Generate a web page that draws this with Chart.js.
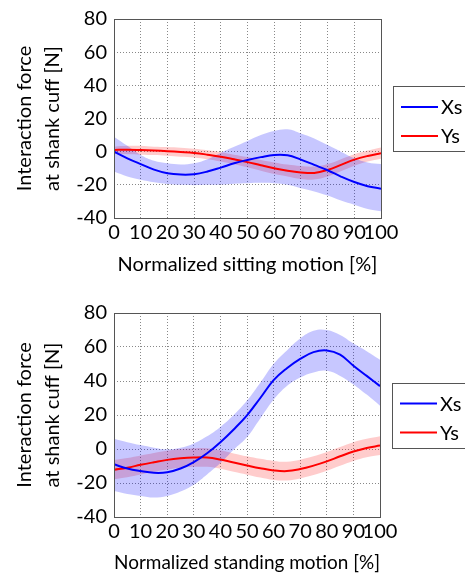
<!DOCTYPE html>
<html>
<head>
<meta charset="utf-8">
<script src="https://cdn.jsdelivr.net/npm/chart.js@4"></script>
<style>
  body { margin: 0; background: #fff; }
  .panel { position: absolute; left: 0; width: 465px; }
  #sitPanel { top: 0; height: 290px; }
  #standPanel { top: 290px; height: 289px; }
</style>
</head>
<body>
<div class="panel" id="sitPanel"><canvas id="sitChart" width="465" height="290"></canvas></div>
<div class="panel" id="standPanel"><canvas id="standChart" width="465" height="289"></canvas></div>
<script>
// motion phase in percent (0..100, step 5)
const phase = [0, 5, 10, 15, 20, 25, 30, 35, 40, 45, 50, 55, 60, 65, 70, 75, 80, 85, 90, 95, 100]

// sitting motion
const sitXs      = [0, -4, -7.5, -10.8, -13, -13.8, -13.6, -12, -9.6, -7, -5, -3.3, -2, -2.2, -4.8, -8, -11.2, -15, -18.3, -20.8, -22.3]
const sitXsUpper = [9, 3.5, -2, -5.5, -7, -7.7, -7, -4.5, -0.6, 3, 6.5, 10, 12.5, 13.5, 11, 8, 4, 0, -4, -6.5, -7.5]
const sitXsLower = [-12, -15, -17, -18.5, -19.5, -20, -20.2, -20, -19.8, -19.3, -19, -18.8, -19, -20, -22, -24, -26.5, -29.5, -32, -34.5, -36]
const sitYs      = [1, 1.2, 1, 0.7, 0.3, -0.2, -0.8, -1.8, -3, -4.6, -6.3, -8.2, -10, -11.5, -12.5, -12.8, -11, -8, -4.8, -2.6, -1]
const sitYsUpper = [3, 3.5, 3.5, 3, 2.8, 2.3, 1.7, 0.8, -0.3, -1.8, -3.2, -5, -6.5, -7.8, -8.7, -9, -7.5, -4.5, -1.5, 0.7, 2.5]
const sitYsLower = [-1.5, -1.5, -1.8, -2, -2.4, -3, -3.5, -4.6, -6, -7.6, -9.4, -11.5, -13.5, -15, -16.5, -16.8, -15, -11.8, -8.5, -6, -4.3]

// standing motion
const standXs      = [-9, -11.5, -13, -14, -13.7, -11.5, -7.7, -2.5, 4, 11.5, 19.8, 30, 40.5, 47.5, 53, 57, 58, 55.5, 49, 43, 37]
const standXsUpper = [6, 4, 2.3, 0.8, -0.2, 0.8, 3.3, 7.5, 13, 20, 28.5, 39, 50, 58, 65, 69.5, 70, 67, 62, 57.5, 52.5]
const standXsLower = [-24.7, -26.5, -27.6, -28.6, -27.6, -25, -21, -15, -8.3, -0.5, 7, 18, 29, 37, 42, 45, 46, 43, 38, 32, 25.5]
const standYs      = [-12.2, -11, -9.3, -7.8, -6.4, -5.5, -5, -5, -6.2, -8, -9.7, -11.3, -12.6, -13, -11.8, -9.8, -7.3, -4.3, -1.5, 0.6, 2]
const standYsUpper = [-6.5, -5.3, -3.8, -2.3, -1, 0, 0.5, 0.5, -0.8, -2.6, -4.3, -5.8, -7, -7.5, -6.3, -4.3, -1.8, 1.2, 4, 6, 7.5]
const standYsLower = [-17.8, -16.6, -15, -13.4, -12, -11, -10.5, -10.5, -11.6, -13.4, -15.1, -16.8, -18.2, -18.5, -17.3, -15.3, -12.8, -9.8, -7, -4.8, -3.5]

const seriesNames = ["Xs", "Ys"]
const yTitle = ["Interaction force", "at shank cuff [N]"]

const FONT = "Lato, 'Open Sans', sans-serif"
const TEXT = "#000"
const BLUE = "#0000ff"
const RED = "#ff0000"
const BLUE_BAND = "rgba(0, 0, 255, 0.22)"
const RED_BAND = "rgba(255, 0, 0, 0.2)"

function toPoints(values) {
  return values.map((v, i) => ({ x: phase[i], y: v }))
}

// solid frame around the plot area
const framePlugin = {
  id: "frame",
  afterDraw(chart) {
    const { ctx, chartArea: a } = chart
    ctx.save()
    ctx.strokeStyle = "#555"
    ctx.lineWidth = 1
    ctx.strokeRect(Math.round(a.left) + 0.5, Math.round(a.top) + 0.5,
      Math.round(a.right - a.left), Math.round(a.bottom - a.top))
    ctx.restore()
  }
}

// boxed legend on the right, vertically centred on the plot
const boxLegendPlugin = {
  id: "boxLegend",
  afterDraw(chart) {
    const { ctx, chartArea: a } = chart
    const top = (a.top + a.bottom) / 2 - 32.5
    const left = a.right + 12
    ctx.save()
    ctx.strokeStyle = "#555"
    ctx.lineWidth = 1
    ctx.strokeRect(Math.round(left) + 0.5, Math.round(top) + 0.5, 90, 65)
    ctx.font = "20px " + FONT
    ctx.textBaseline = "middle"
    ctx.fillStyle = TEXT
    chart.data.datasets.slice(0, 2).forEach((ds, i) => {
      const y = top + 21 + i * 29
      ctx.strokeStyle = ds.borderColor
      ctx.lineWidth = 2
      ctx.beginPath()
      ctx.moveTo(left + 8, y)
      ctx.lineTo(left + 45, y)
      ctx.stroke()
      ctx.fillText(ds.label, left + 48, y + 1)
    })
    ctx.restore()
  }
}

function lineSet(label, values, color) {
  return {
    label: label,
    data: toPoints(values),
    borderColor: color,
    borderWidth: 2,
    pointRadius: 0,
    tension: 0.4,
    fill: false
  }
}

function bandSet(values, color, fillTarget) {
  return {
    label: "",
    data: toPoints(values),
    borderWidth: 0,
    borderColor: "rgba(0,0,0,0)",
    backgroundColor: color,
    pointRadius: 0,
    tension: 0.4,
    fill: fillTarget
  }
}

function makeChart(canvasId, xTitle, series, frame) {
  const ctx = document.getElementById(canvasId).getContext("2d")
  return new Chart(ctx, {
    type: "line",
    data: {
      datasets: [
        lineSet(seriesNames[0], series.xs, BLUE),
        lineSet(seriesNames[1], series.ys, RED),
        bandSet(series.xsLower, BLUE_BAND, false),
        bandSet(series.xsUpper, BLUE_BAND, "-1"),
        bandSet(series.ysLower, RED_BAND, false),
        bandSet(series.ysUpper, RED_BAND, "-1")
      ]
    },
    options: {
      responsive: false,
      animation: false,
      layout: { padding: { top: frame.top, right: 465 - frame.right, left: 0, bottom: 0 } },
      plugins: {
        legend: { display: false },
        tooltip: { enabled: false }
      },
      scales: {
        x: {
          type: "linear",
          min: 0,
          max: 100,
          afterFit: scale => { scale.height = frame.xHeight },
          ticks: {
            stepSize: 10,
            padding: 3,
            color: TEXT,
            maxRotation: 0,
            autoSkip: false,
            font: { family: FONT, size: 20 }
          },
          grid: { color: "#888", drawTicks: false },
          border: { display: false, dash: [1, 2] },
          title: {
            display: true,
            text: xTitle,
            color: TEXT,
            padding: { top: 0, bottom: frame.xTitlePad },
            font: { family: FONT, size: 20, lineHeight: 1.2 }
          }
        },
        y: {
          min: -40,
          max: 80,
          afterFit: scale => { scale.width = 114 },
          ticks: {
            stepSize: 20,
            padding: 7,
            color: TEXT,
            font: { family: FONT, size: 20 }
          },
          grid: { color: "#888", drawTicks: false },
          border: { display: false, dash: [1, 2] },
          title: {
            display: true,
            text: yTitle,
            color: TEXT,
            padding: { top: 11, bottom: 0 },
            font: { family: FONT, size: 20, lineHeight: 1.4 }
          }
        }
      }
    },
    plugins: [framePlugin, boxLegendPlugin]
  })
}

makeChart("sitChart", "Normalized sitting motion [%]", {
  xs: sitXs, xsUpper: sitXsUpper, xsLower: sitXsLower,
  ys: sitYs, ysUpper: sitYsUpper, ysLower: sitYsLower
}, { top: 11, right: 381, xHeight: 72, xTitlePad: 13 })

makeChart("standChart", "Normalized standing motion [%]", {
  xs: standXs, xsUpper: standXsUpper, xsLower: standXsLower,
  ys: standYs, ysUpper: standYsUpper, ysLower: standYsLower
}, { top: 23, right: 380, xHeight: 62, xTitlePad: 4 })
</script>
</body>
</html>
